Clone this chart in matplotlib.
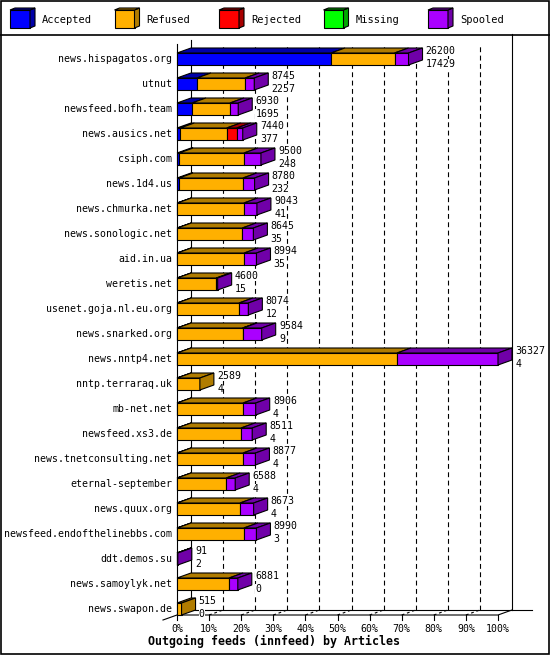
import matplotlib
matplotlib.use('Agg')
import matplotlib.pyplot as plt
from matplotlib.patches import Polygon, Rectangle
from matplotlib.lines import Line2D

plt.rcParams['font.family'] = ['DejaVu Sans Mono']
plt.rcParams['lines.scale_dashes'] = False

hosts = ['news.hispagatos.org', 'utnut', 'newsfeed.bofh.team', 'news.ausics.net',
         'csiph.com', 'news.1d4.us', 'news.chmurka.net', 'news.sonologic.net',
         'aid.in.ua', 'weretis.net', 'usenet.goja.nl.eu.org', 'news.snarked.org',
         'news.nntp4.net', 'nntp.terraraq.uk', 'mb-net.net', 'newsfeed.xs3.de',
         'news.tnetconsulting.net', 'eternal-september', 'news.quux.org',
         'newsfeed.endofthelinebbs.com', 'ddt.demos.su', 'news.samoylyk.net',
         'news.swapon.de']
offered = [26200, 8745, 6930, 7440, 9500, 8780, 9043, 8645, 8994, 4600, 8074, 9584,
           36327, 2589, 8906, 8511, 8877, 6588, 8673, 8990, 91, 6881, 515]
accepted = [17429, 2257, 1695, 377, 248, 232, 41, 35, 35, 15, 12, 9,
            4, 4, 4, 4, 4, 4, 4, 3, 2, 0, 0]
refused = [7190, 5450, 4300, 5250, 7330, 7230, 7530, 7350, 7570, 4435, 7000, 7415,
           24900, 2585, 7470, 7240, 7470, 5550, 7130, 7570, 4, 5890, 515]
rejected = [0, 0, 0, 1130, 0, 0, 0, 0, 0, 0, 0, 60,
            0, 0, 0, 0, 0, 0, 0, 0, 0, 0, 0]
missing = [0] * 23
spooled = [1581, 1038, 935, 683, 1922, 1318, 1472, 1260, 1389, 150, 1062, 2100,
           11423, 0, 1432, 1267, 1403, 1034, 1539, 1417, 85, 991, 0]

series = ['Accepted', 'Refused', 'Rejected', 'Missing', 'Spooled']
front_colors = ['#0000ff', '#ffb000', '#ff0000', '#00ff00', '#aa00ff']
dark_colors = ['#0000a8', '#b07c00', '#a80000', '#00a800', '#7000a8']
ticks = [0, 10, 20, 30, 40, 50, 60, 70, 80, 90, 100]

W, H = 550, 655
fig = plt.figure(figsize=(W / 100, H / 100), dpi=100)

# plot area: 0..100% spans pixels 177..498, rows are 25 px apart
top_px, bot_px = 34, 615
n = len(hosts)
ax = fig.add_axes([177 / W, (H - bot_px) / H, 321 / W, (bot_px - top_px) / H])
ax.set_xlim(0, 100)
floor = n - 1 + 0.24
ax.set_ylim(floor, -1)
ax.axis('off')

DX = 14 / 3.21   # depth in x units
DY = -0.2        # depth in row units
HH = 0.24        # half bar height
lw = 0.8
fs = 7.1
scale = 100.0 / max(offered)
back_floor = floor + DY

# back wall: axis line and dashed grid
ax.add_line(Line2D([DX, DX], [back_floor, -0.78], color='black', lw=lw, zorder=1, clip_on=False))
ax.add_line(Line2D([0, 0], [floor, -0.6], color='black', lw=lw, zorder=1, clip_on=False))
for t in ticks[1:-1]:
    ax.add_line(Line2D([t + DX, t + DX], [back_floor, -0.56], color='black', lw=lw,
                       dashes=(3.5, 2.5), zorder=1, clip_on=False))
    ax.add_line(Line2D([t, t + DX], [floor, back_floor], color='black', lw=lw,
                       dashes=(2, 2), zorder=1, clip_on=False))
ax.add_line(Line2D([100 + DX, 100 + DX], [back_floor, -1.0], color='black', lw=lw,
                   zorder=1, clip_on=False))
ax.add_line(Line2D([DX, 110.6], [back_floor, back_floor], color='black', lw=lw,
                   zorder=1, clip_on=False))
ax.add_line(Line2D([-DX, 0, 100, 100 + DX], [floor - DY, floor, floor, back_floor],
                   color='black', lw=lw, zorder=1, clip_on=False))
for t in ticks:
    ax.add_line(Line2D([t, t], [floor, floor + 0.2], color='black', lw=lw, clip_on=False))
    ax.text(t, floor + 0.55, '%d%%' % t, ha='center', va='center', fontsize=fs)

data = [accepted, refused, rejected, missing, spooled]
for i in range(n):
    left = 0.0
    last = None
    for k in range(len(series)):
        w = data[k][i] * scale
        if w <= 0:
            continue
        ax.add_patch(Rectangle((left, i - HH), w, 2 * HH, facecolor=front_colors[k],
                               edgecolor='black', lw=lw, zorder=3, clip_on=False))
        ax.add_patch(Polygon([(left, i - HH), (left + w, i - HH), (left + w + DX, i - HH + DY),
                              (left + DX, i - HH + DY)], closed=True, facecolor=dark_colors[k],
                             edgecolor='black', lw=lw, zorder=3, clip_on=False))
        left += w
        last = k
    if last is not None:
        ax.add_patch(Polygon([(left, i - HH), (left + DX, i - HH + DY), (left + DX, i + HH + DY),
                              (left, i + HH)], closed=True, facecolor=dark_colors[last],
                             edgecolor='black', lw=lw, zorder=4, clip_on=False))
    ax.text(-1.5, i, hosts[i], ha='right', va='center', fontsize=fs)
    tx = offered[i] * scale + DX + 1.0
    ax.text(tx, i - 0.32, str(offered[i]), ha='left', va='center', fontsize=fs, zorder=5,
            bbox=dict(facecolor='white', edgecolor='none', pad=0))
    ax.text(tx, i + 0.2, str(accepted[i]), ha='left', va='center', fontsize=fs, zorder=5,
            bbox=dict(facecolor='white', edgecolor='none', pad=0))

# legend and frame in pixel space
lax = fig.add_axes([0, 0, 1, 1], zorder=-1)
lax.set_xlim(0, W)
lax.set_ylim(H, 0)
lax.axis('off')
lax.add_patch(Rectangle((0.5, 0.5), W - 1.5, H - 1.5, fill=False, edgecolor='black', lw=1.2))
lax.add_line(Line2D([0, W], [35, 35], color='black', lw=1.2))
for k, name in enumerate(series):
    x0 = 10 + 104.5 * k
    lax.add_patch(Rectangle((x0, 10), 20, 18, facecolor=front_colors[k], edgecolor='black', lw=lw))
    lax.add_patch(Polygon([(x0 + 20, 10), (x0 + 25, 8), (x0 + 25, 26), (x0 + 20, 28)],
                          closed=True, facecolor=dark_colors[k], edgecolor='black', lw=lw))
    lax.add_patch(Polygon([(x0, 10), (x0 + 5, 8), (x0 + 25, 8), (x0 + 20, 10)],
                          closed=True, facecolor=dark_colors[k], edgecolor='black', lw=lw))
    lax.text(x0 + 32, 20, name, ha='left', va='center', fontsize=7.5)

lax.text(274, 641, 'Outgoing feeds (innfeed) by Articles', ha='center', va='center',
         fontsize=8.4, fontweight='bold')

fig.savefig('out.png', dpi=100)
